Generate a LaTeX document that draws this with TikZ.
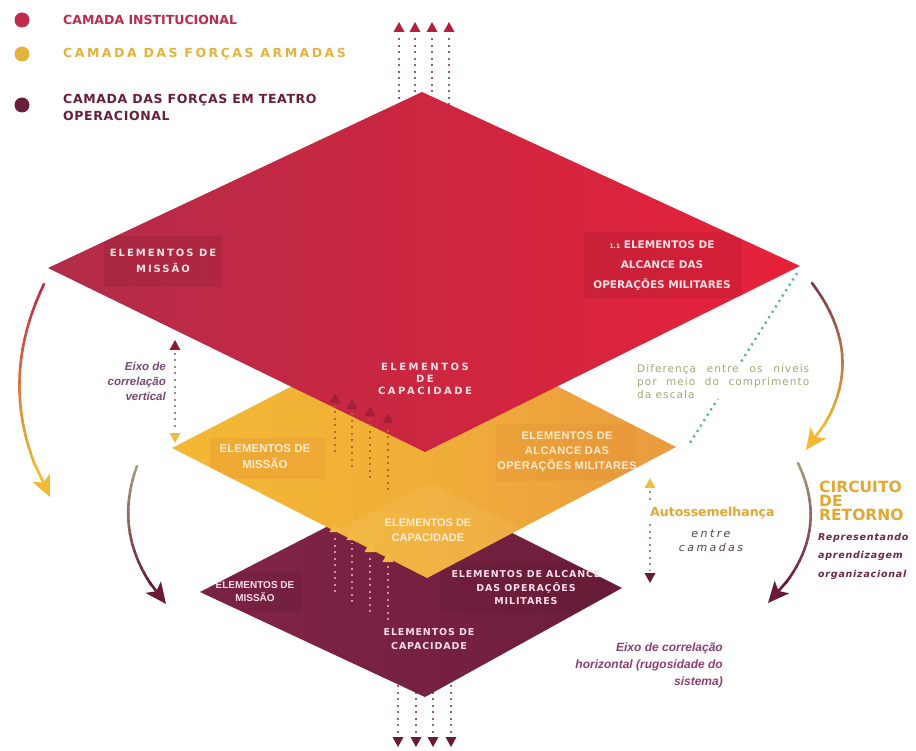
\documentclass[tikz,border=0pt]{standalone}
\usepackage{fontspec}
\setmainfont{DejaVu Sans}
\newfontfamily\lib{Liberation Sans}
\usetikzlibrary{arrows.meta}

\definecolor{legred}{HTML}{BE2B4B}
\definecolor{legyel}{HTML}{E4B33E}
\definecolor{legmar}{HTML}{6A1F3A}
\definecolor{redL}{HTML}{B22C4A}
\definecolor{redM}{HTML}{CC2640}
\definecolor{redR}{HTML}{E8213A}
\definecolor{yelL}{HTML}{F3B834}
\definecolor{yelM}{HTML}{F0AF38}
\definecolor{yelR}{HTML}{EA9A40}
\definecolor{yelbox}{HTML}{E58F35}
\definecolor{marL}{HTML}{822548}
\definecolor{marR}{HTML}{6C1D3B}
\definecolor{redtext}{HTML}{FBE2E4}
\definecolor{yeltext}{HTML}{FDEBCF}
\definecolor{martext}{HTML}{F7DDE6}
\definecolor{axpur}{HTML}{7A4A72}
\definecolor{axpurh}{HTML}{8E3E70}
\definecolor{gold}{HTML}{E3A733}
\definecolor{repcol}{HTML}{6E2646}
\definecolor{olive}{HTML}{9CAB74}
\definecolor{teal}{HTML}{62B595}
\definecolor{dotgray}{HTML}{8E6272}
\definecolor{tipred}{HTML}{B3213F}
\definecolor{tipmar}{HTML}{6A1A36}
\definecolor{tipyel}{HTML}{F2BC42}
\definecolor{dotbrown}{HTML}{B8672F}
\definecolor{dotpink}{HTML}{D98E98}
\definecolor{entrecol}{HTML}{54444C}
\definecolor{arcgray}{HTML}{A89C80}
\definecolor{arcmar}{HTML}{7A3A52}

% dotted arrow pointing up: x, tip y, bottom y, dot colour, tip colour
\newcommand{\dotup}[5]{%
  \draw[#4, line width=2.2pt, dash pattern=on 2pt off 4.5pt] (#1,#3) -- (#1,#2+13);
  \fill[#5] (#1,#2) -- (#1-5.5,#2+10) -- (#1+5.5,#2+10) -- cycle;}
% dotted arrow pointing down: x, tip y, top y, dot colour, tip colour
\newcommand{\dotdown}[5]{%
  \draw[#4, line width=2.2pt, dash pattern=on 2pt off 4.5pt] (#1,#3) -- (#1,#2-13);
  \fill[#5] (#1,#2) -- (#1-5.5,#2-10) -- (#1+5.5,#2-10) -- cycle;}
% curved arrow with colour gradient (quadratic): x0 y0 x1 y1 x2 y2 startcol endcol
\newcommand{\gradarc}[8]{%
  \foreach \i in {0,...,19}{%
    \pgfmathsetmacro\ta{\i*0.0425}%
    \pgfmathsetmacro\tb{(\i+1)*0.0425+0.004}%
    \pgfmathsetmacro\xa{(1-\ta)*(1-\ta)*(#1)+2*\ta*(1-\ta)*(#3)+\ta*\ta*(#5)}%
    \pgfmathsetmacro\ya{(1-\ta)*(1-\ta)*(#2)+2*\ta*(1-\ta)*(#4)+\ta*\ta*(#6)}%
    \pgfmathsetmacro\xb{(1-\tb)*(1-\tb)*(#1)+2*\tb*(1-\tb)*(#3)+\tb*\tb*(#5)}%
    \pgfmathsetmacro\yb{(1-\tb)*(1-\tb)*(#2)+2*\tb*(1-\tb)*(#4)+\tb*\tb*(#6)}%
    \pgfmathtruncatemacro\pc{\i*5}%
    \draw[line width=2.6pt, line cap=round, color=#8!\pc!#7] (\xa,\ya) -- (\xb,\yb);
  }%
  \pgfmathsetmacro\xh{0.0289*(#1)+0.2822*(#3)+0.6889*(#5)}%
  \pgfmathsetmacro\yh{0.0289*(#2)+0.2822*(#4)+0.6889*(#6)}%
  \draw[line width=2.6pt, #8, -{Stealth[length=21pt,width=19pt,inset=5pt]}] (\xh,\yh) -- (#5,#6);
}

\tikzset{
  leg/.style={anchor=west, inner sep=0pt, align=left, font=\bfseries\fontsize{12.5}{17}\selectfont},
  redtxt/.style={text=redtext, inner sep=0pt, align=center},
  yeltxt/.style={text=yeltext, inner sep=0pt, align=center},
  martxt/.style={text=martext, inner sep=0pt, align=center},
  axisdots/.style={dotgray!80, line width=2.2pt, dash pattern=on 2pt off 4.5pt},
}

\begin{document}
\begin{tikzpicture}[x=1pt,y=-1pt]
\useasboundingbox (0,0) rectangle (916,751);
\fill[white] (0,0) rectangle (916,751);

% ---- vertical dotted arrows (behind layers)
\foreach \x in {399,415,432,449} {\dotup{\x}{22}{112}{dotgray}{tipred}}
\foreach \x in {398,416,433,451} {\dotdown{\x}{747}{672}{dotgray}{tipmar}}

% ---- curved return arrows
\gradarc{44}{284}{-8}{392}{50}{497}{legred}{yelL}
\gradarc{137}{466}{110}{540}{166}{604}{arcgray}{tipmar}
\gradarc{812}{283}{876}{368}{806}{450}{arcmar}{yelL}
\gradarc{798}{463}{834}{538}{768}{603}{arcgray}{tipmar}

% ---- maroon layer
\shade[left color=marL, right color=marR] (200,592) -- (412,483) -- (622,588) -- (425,697) -- cycle;
\begin{scope}
  \clip (200,592) -- (412,483) -- (622,588) -- (425,697) -- cycle;
  \fill[black, opacity=.06] (205,572) rectangle (302,612);
  \fill[black, opacity=.05] (440,562) rectangle (612,613);
\end{scope}

% ---- yellow layer
\shade[left color=yelL, right color=yelR, middle color=yelM] (172,448) -- (424,318) -- (676,447) -- (427,578) -- cycle;
\begin{scope}
  \clip (172,448) -- (424,318) -- (676,447) -- (427,578) -- cycle;
  \fill[yelL!60!white, opacity=.15] (338,530) -- (430,484) -- (525,530) -- (428,578) -- cycle;
  \fill[yelbox, opacity=.3] (210,438) rectangle (325,479);
  \fill[yelbox, opacity=.3] (496,424) rectangle (636,481);
\end{scope}

% ---- red layer
\shade[left color=redL, right color=redR, middle color=redM] (48,268) -- (422,92) -- (800,266) -- (425,452) -- cycle;
\begin{scope}
  \clip (48,268) -- (422,92) -- (800,266) -- (425,452) -- cycle;
  \fill[black, opacity=.07] (104,236) rectangle (222,287);
  \fill[black, opacity=.07] (584,232) rectangle (742,298);
\end{scope}

% ---- dotted arrows between layers
\dotup{335}{393}{452}{dotbrown}{tipred!70!black, opacity=.45}
\dotup{352}{399}{467}{dotbrown}{tipred!70!black, opacity=.45}
\dotup{370}{406}{478}{dotbrown}{tipred!70!black, opacity=.45}
\dotup{388}{413}{490}{dotbrown}{tipred!70!black, opacity=.45}
\dotup{335}{522}{592}{dotpink}{tipyel}
\dotup{352}{530}{602}{dotpink}{tipyel}
\dotup{370}{542}{612}{dotpink}{tipyel}
\dotup{388}{552}{620}{dotpink}{tipyel}

% ---- green scale line
\coordinate (rv) at (797,273);
\coordinate (yv) at (688,446);
\draw[teal, line width=2.4pt, dash pattern=on 2.2pt off 4.2pt] (rv) -- (yv);

% ---- correlation axes
\draw[axisdots] (175,353) -- (175,430);
\fill[tipred!80!black] (175,340) -- (169.5,350) -- (180.5,350) -- cycle;
\fill[tipyel] (175,443) -- (169.5,433) -- (180.5,433) -- cycle;
\draw[axisdots] (650,491) -- (650,503);
\draw[axisdots] (650,524) -- (650,571);
\fill[tipyel] (650,478) -- (644.5,488) -- (655.5,488) -- cycle;
\fill[tipmar] (650,583) -- (644.5,573) -- (655.5,573) -- cycle;

% ---- legend
\fill[legred] (22,20) circle (7.5);
\fill[legyel] (22,54) circle (7.5);
\fill[legmar] (22,105) circle (7.5);
\node[leg, text=legred] (leg1) at (63,20) {CAMADA INSTITUCIONAL};
\node[leg, text=legyel, font=\bfseries\fontsize{12.5}{17}\selectfont\addfontfeatures{LetterSpace=20}] (leg2) at (63,54) {CAMADA DAS FORÇAS ARMADAS};
\node[leg, text=legmar, font=\bfseries\fontsize{12.5}{17}\selectfont\addfontfeatures{LetterSpace=5}] (leg3) at (63,107) {CAMADA DAS FORÇAS EM TEATRO\\OPERACIONAL};

% ---- red layer texts
\node[redtxt, font=\bfseries\fontsize{10}{16}\selectfont\addfontfeatures{LetterSpace=20}] (rm) at (163,261) {ELEMENTOS DE\\MISSÃO};
\node[redtxt, font=\bfseries\fontsize{10.5}{20}\selectfont] (ra) at (662,266) {{\fontsize{6}{6}\selectfont 1.1} ELEMENTOS DE\\ALCANCE DAS\\OPERAÇÕES MILITARES};
\node[redtxt, font=\bfseries\fontsize{10}{12}\selectfont\addfontfeatures{LetterSpace=25}] (rc) at (425,379) {ELEMENTOS\\DE\\CAPACIDADE};

% ---- yellow layer texts
\node[yeltxt, font=\lib\bfseries\fontsize{11.5}{16}\selectfont] (ym) at (265,457) {ELEMENTOS DE\\MISSÃO};
\node[yeltxt, font=\lib\bfseries\fontsize{11}{15}\selectfont\addfontfeatures{LetterSpace=4}] (ya) at (567,452) {ELEMENTOS DE\\ALCANCE DAS\\OPERAÇÕES MILITARES};
\node[yeltxt, font=\lib\bfseries\fontsize{11}{15}\selectfont] (yc) at (428,530) {ELEMENTOS DE\\CAPACIDADE};

% ---- maroon layer texts
\node[martxt, font=\lib\bfseries\fontsize{10}{13}\selectfont] (mm) at (255,592) {ELEMENTOS DE\\MISSÃO};
\node[martxt, font=\bfseries\fontsize{9.5}{13.5}\selectfont\addfontfeatures{LetterSpace=9}] (ma) at (526,588) {ELEMENTOS DE ALCANCE\\DAS OPERAÇÕES\\MILITARES};
\node[martxt, font=\bfseries\fontsize{9.5}{14}\selectfont\addfontfeatures{LetterSpace=9}] (mc) at (429,639) {ELEMENTOS DE\\CAPACIDADE};

% ---- annotations
\node[anchor=east, align=right, inner sep=0pt, text=axpur, font=\lib\bfseries\itshape\fontsize{11.5}{15}\selectfont] (ev) at (166,381) {Eixo de\\correlação\\vertical};
\node[anchor=east, align=right, inner sep=0pt, text=axpurh, font=\lib\bfseries\itshape\fontsize{12}{17}\selectfont] (eh) at (723,665) {Eixo de correlação\\horizontal (rugosidade do\\sistema)};
\node[anchor=west, inner sep=0pt, text=gold, font=\bfseries\fontsize{12.5}{14}\selectfont] (au) at (650,513) {Autossemelhança};
\node[align=center, inner sep=0pt, text=entrecol, font=\itshape\fontsize{11}{14}\selectfont\addfontfeatures{LetterSpace=22}] (en) at (711,541) {entre\\camadas};
\node[anchor=west, align=left, inner sep=0pt, text=gold, font=\bfseries\fontsize{15.5}{14}\selectfont] (ci) at (819,501) {CIRCUITO\\DE\\RETORNO};
\node[anchor=west, align=left, inner sep=0pt, text=repcol, font=\bfseries\itshape\fontsize{9.5}{18.5}\selectfont\addfontfeatures{LetterSpace=8}] (rep) at (818,556) {Representando\\aprendizagem\\organizacional};
\node[anchor=west, align=left, fill=white, inner sep=1pt, text=olive, font=\fontsize{10.5}{13}\selectfont\addfontfeatures{LetterSpace=10}] (dif) at (636,381) {\makebox[172pt][s]{Diferença entre os níveis}\\\makebox[172pt][s]{por meio do comprimento}\\da escala};
\end{tikzpicture}
\end{document}
